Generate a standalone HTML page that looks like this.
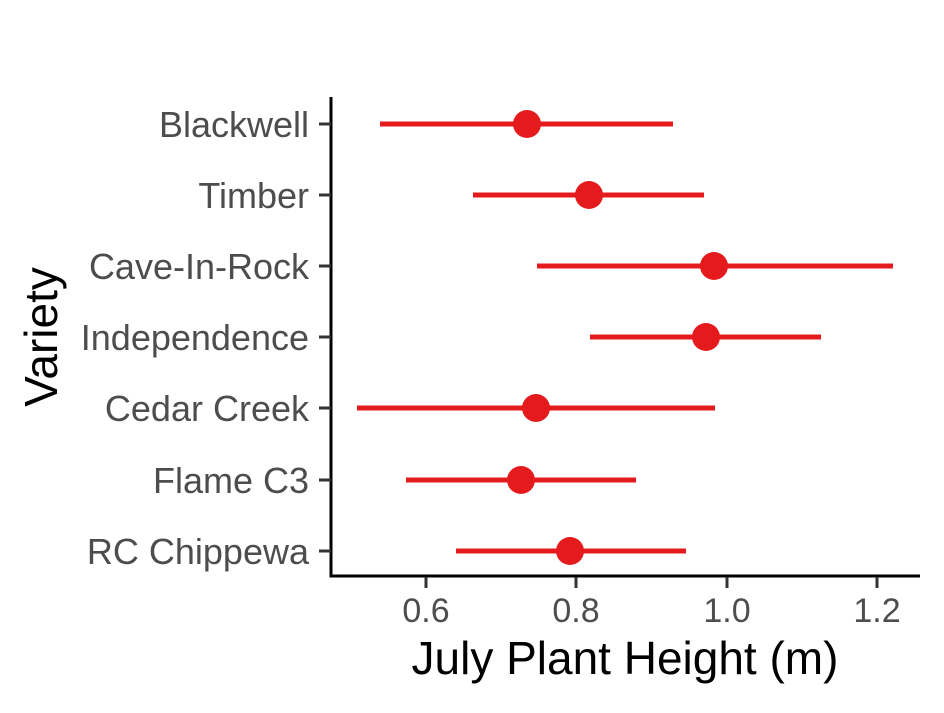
<!DOCTYPE html>
<html><head><style>body{margin:0;background:#fff}</style></head><body>
<svg width="944" height="708" xmlns="http://www.w3.org/2000/svg" font-family="Liberation Sans, Arial, sans-serif">
<rect width="944" height="708" fill="#fff"/>
<g stroke="#e41a1c" stroke-width="5">
<line x1="380" y1="124" x2="673" y2="124"/>
<line x1="473" y1="195" x2="704" y2="195" />
<line x1="537" y1="266" x2="893" y2="266"/>
<line x1="590" y1="337" x2="821" y2="337"/>
<line x1="357" y1="408" x2="715" y2="408"/>
<line x1="406" y1="480" x2="636" y2="480"/>
<line x1="456" y1="551" x2="686" y2="551"/>
</g>
<g fill="#e41a1c">
<circle cx="527" cy="124" r="14"/>
<circle cx="589" cy="195" r="14"/>
<circle cx="714" cy="266" r="14"/>
<circle cx="706" cy="337" r="14"/>
<circle cx="536" cy="408" r="14"/>
<circle cx="521" cy="480" r="14"/>
<circle cx="570" cy="551" r="14"/>
</g>
<g stroke="#000" stroke-width="3" fill="none">
<path d="M331 97 V576 H920"/>
</g>
<g stroke="#333" stroke-width="3">
<line x1="319" y1="124" x2="331" y2="124"/>
<line x1="319" y1="195" x2="331" y2="195"/>
<line x1="319" y1="266" x2="331" y2="266"/>
<line x1="319" y1="337" x2="331" y2="337"/>
<line x1="319" y1="408" x2="331" y2="408"/>
<line x1="319" y1="480" x2="331" y2="480"/>
<line x1="319" y1="551" x2="331" y2="551"/>
<line x1="426" y1="577" x2="426" y2="588"/>
<line x1="576" y1="577" x2="576" y2="588"/>
<line x1="727" y1="577" x2="727" y2="588"/>
<line x1="877" y1="577" x2="877" y2="588"/>
</g>
<g fill="#4d4d4d" font-size="36" text-anchor="end">
<text x="309" y="137">Blackwell</text>
<text x="309" y="208">Timber</text>
<text x="309" y="279">Cave-In-Rock</text>
<text x="309" y="350">Independence</text>
<text x="309" y="421">Cedar Creek</text>
<text x="309" y="493">Flame C3</text>
<text x="309" y="564">RC Chippewa</text>
</g>
<g fill="#4d4d4d" font-size="34" text-anchor="middle">
<text x="426" y="622">0.6</text>
<text x="576" y="622">0.8</text>
<text x="727" y="622">1.0</text>
<text x="877" y="622">1.2</text>
</g>
<text x="625" y="674" font-size="46" text-anchor="middle" fill="#000">July Plant Height (m)</text>
<text transform="translate(57,337) rotate(-90)" font-size="46" text-anchor="middle" fill="#000">Variety</text>
</svg>
</body></html>
